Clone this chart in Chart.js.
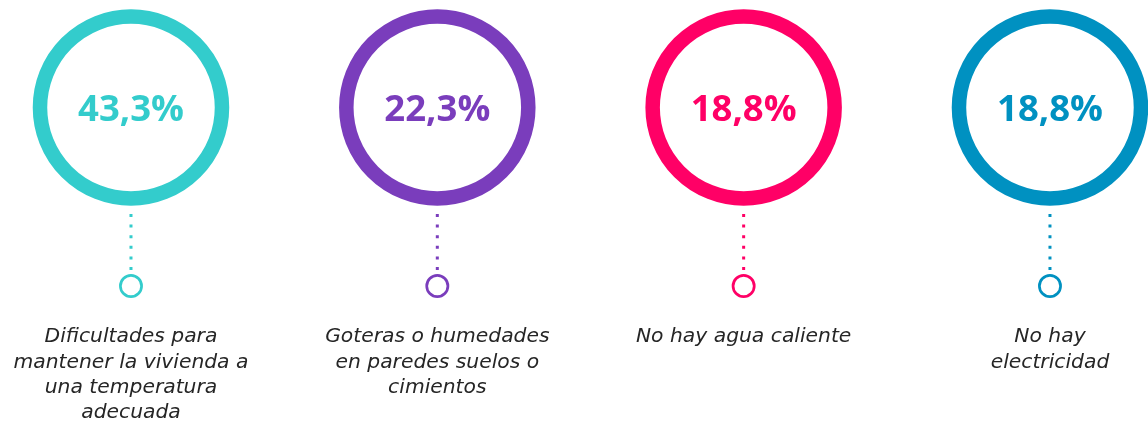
<!DOCTYPE html>
<html>
<head>
<meta charset="utf-8">
<script src="https://cdn.jsdelivr.net/npm/chart.js@4/dist/chart.umd.min.js"></script>
<style>
  html, body { margin: 0; padding: 0; background: #fff; }
  canvas { display: block; }
</style>
</head>
<body>
<canvas id="infoChart" width="1148" height="425"></canvas>
<script>
// data
const categories = [
  ['Dificultades para', 'mantener la vivienda a', 'una temperatura', 'adecuada'],
  ['Goteras o humedades', 'en paredes suelos o', 'cimientos'],
  ['No hay agua caliente'],
  ['No hay', 'electricidad']
];
const values = [43.3, 22.3, 18.8, 18.8];
const colors = ['#33CCCC', '#7A3DBC', '#FF0066', '#0091C1'];

// layout (pixels, y axis runs top-down)
const ringY = 107.5, ringR = 91, ringW = 14.5;
const dotTop = 214, dotBottom = 272;
const smallY = 286, smallR = 10.6, smallW = 2.7;
const labelY = 337, labelLH = 25.4;

const idx = values.map((v, i) => i);

const datasets = [];
// dotted connectors, one per item
idx.forEach(i => {
  datasets.push({
    type: 'line',
    data: [{x: i, y: dotTop}, {x: i, y: dotBottom}],
    borderColor: colors[i],
    borderWidth: 3,
    borderDash: [3, 7.6],
    borderCapStyle: 'butt',
    pointRadius: 0,
    clip: false
  })
})
// big rings
datasets.push({
  type: 'scatter',
  data: idx.map(i => ({x: i, y: ringY})),
  pointRadius: ringR,
  pointBorderWidth: ringW,
  pointBackgroundColor: '#fff',
  pointBorderColor: colors,
  clip: false
})
// small circles
datasets.push({
  type: 'scatter',
  data: idx.map(i => ({x: i, y: smallY})),
  pointRadius: smallR,
  pointBorderWidth: smallW,
  pointBackgroundColor: '#fff',
  pointBorderColor: colors,
  clip: false
})

const ringIndex = idx.length

const textPlugin = {
  id: 'texts',
  afterDatasetsDraw: (chart) => {
    const ctx = chart.ctx
    const meta = chart.getDatasetMeta(ringIndex)
    ctx.save()
    ctx.textAlign = 'center'
    ctx.textBaseline = 'middle'
    meta.data.forEach((pt, i) => {
      ctx.fillStyle = colors[i]
      ctx.font = 'bold 36.5px "Open Sans"'
      ctx.fillText(values[i].toFixed(1).replace('.', ',') + '%', pt.x, pt.y + 3)
      ctx.fillStyle = '#262626'
      ctx.font = 'italic 20.3px "DejaVu Sans"'
      categories[i].forEach((line, j) => {
        ctx.fillText(line, pt.x, labelY + j * labelLH)
      })
    })
    ctx.restore()
  }
}

const xMin = -0.4276, xMax = 3.32

new Chart(document.getElementById('infoChart'), {
  type: 'scatter',
  data: { datasets: datasets },
  options: {
    responsive: false,
    animation: false,
    devicePixelRatio: 1,
    layout: { padding: 0, autoPadding: false },
    plugins: { legend: { display: false }, tooltip: { enabled: false } },
    events: [],
    scales: {
      x: { type: 'linear', min: xMin, max: xMax, display: false },
      y: { type: 'linear', min: 0, max: 425, reverse: true, display: false }
    }
  },
  plugins: [textPlugin]
})
</script>
</body>
</html>
